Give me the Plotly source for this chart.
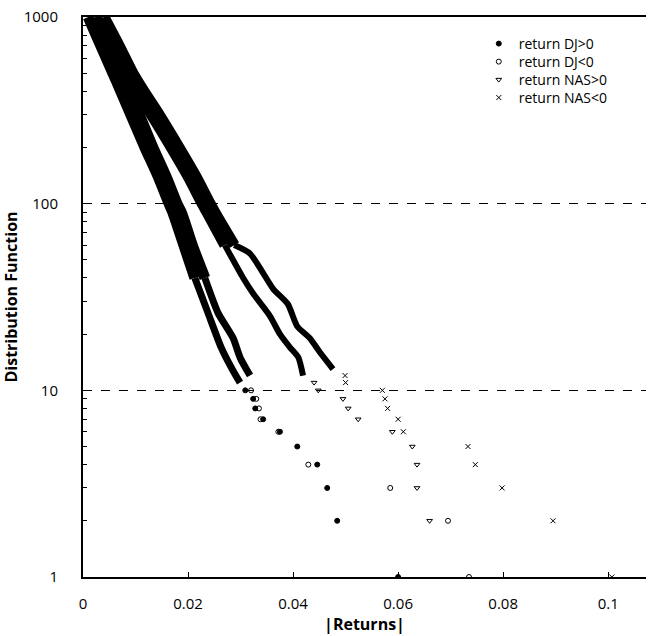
import plotly.graph_objects as go

# ---- Data (|return| vs cumulative count) ----
# Dense body (thick band), mid section (thinner), sparse tail (markers)
dj_pos_core_y = [1000, 700, 500, 400, 300, 200, 140, 100, 90, 60, 40]
dj_pos_core_x = [0.0010, 0.0034, 0.0057, 0.0072, 0.0091, 0.0118, 0.0143, 0.0164, 0.0171, 0.0192, 0.0213]
dj_pos_mid_y = [40, 26, 17, 13, 11]
dj_pos_mid_x = [0.0213, 0.0238, 0.0263, 0.0284, 0.0299]
dj_pos_tail_y = [10, 9, 8, 7, 6, 5, 4, 3, 2, 1]
dj_pos_tail_x = [0.0309, 0.0324, 0.0328, 0.0343, 0.0375, 0.0408, 0.0446, 0.0465, 0.0484, 0.0600]

dj_neg_core_y = [1000, 700, 500, 400, 300, 200, 140, 100, 90, 60, 40]
dj_neg_core_x = [0.0025, 0.0050, 0.0072, 0.0088, 0.0107, 0.0133, 0.0158, 0.0179, 0.0187, 0.0208, 0.0232]
dj_neg_mid_y = [40, 26, 19, 15, 12]
dj_neg_mid_x = [0.0232, 0.0257, 0.0286, 0.0299, 0.0318]
dj_neg_tail_y = [10, 9, 8, 7, 6, 4, 3, 2, 1]
dj_neg_tail_x = [0.0320, 0.0330, 0.0335, 0.0338, 0.0372, 0.0429, 0.0585, 0.0695, 0.0735]

nas_pos_core_y = [1000, 700, 500, 400, 300, 200, 140, 100, 90, 60]
nas_pos_core_x = [0.0025, 0.0053, 0.0080, 0.0101, 0.0130, 0.0168, 0.0200, 0.0227, 0.0236, 0.0270]
nas_pos_mid_y = [60, 40, 33, 25, 20, 17, 15, 12]
nas_pos_mid_x = [0.0270, 0.0305, 0.0324, 0.0356, 0.0375, 0.0394, 0.0410, 0.0419]
nas_pos_tail_y = [11, 10, 9, 8, 7, 6, 5, 4, 3, 2]
nas_pos_tail_x = [0.0440, 0.0448, 0.0495, 0.0505, 0.0524, 0.0589, 0.0627, 0.0636, 0.0636, 0.0660]

nas_neg_core_y = [1000, 700, 500, 400, 300, 200, 140, 100, 90, 60]
nas_neg_core_x = [0.0040, 0.0069, 0.0095, 0.0116, 0.0145, 0.0183, 0.0215, 0.0242, 0.0251, 0.0288]
nas_neg_mid_y = [60, 54, 35, 29, 22, 19, 16, 13]
nas_neg_mid_x = [0.0288, 0.0318, 0.0362, 0.0390, 0.0408, 0.0432, 0.0451, 0.0476]
nas_neg_tail_y = [12, 11, 10, 9, 8, 7, 6, 5, 4, 3, 2, 1]
nas_neg_tail_x = [0.0499, 0.0500, 0.0570, 0.0575, 0.0580, 0.0600, 0.0610, 0.0733, 0.0747, 0.0798, 0.0895, 0.1007]

series_names = ["return DJ>0", "return DJ<0", "return NAS>0", "return NAS<0"]
series_symbols = ["circle", "circle-open", "triangle-down-open", "x-thin-open"]

x_tickvals = [0, 0.02, 0.04, 0.06, 0.08, 0.1]
x_ticktext = ["0", "0.02", "0.04", "0.06", "0.08", "0.1"]
y_tickvals = [1, 10, 100, 1000]
y_ticktext = ["1", "10", "100", "1000"]
y_minor_vals = [m * d for d in (1, 10, 100) for m in range(2, 10)]

series = [
    (dj_pos_core_x, dj_pos_core_y, dj_pos_mid_x, dj_pos_mid_y, dj_pos_tail_x, dj_pos_tail_y),
    (dj_neg_core_x, dj_neg_core_y, dj_neg_mid_x, dj_neg_mid_y, dj_neg_tail_x, dj_neg_tail_y),
    (nas_pos_core_x, nas_pos_core_y, nas_pos_mid_x, nas_pos_mid_y, nas_pos_tail_x, nas_pos_tail_y),
    (nas_neg_core_x, nas_neg_core_y, nas_neg_mid_x, nas_neg_mid_y, nas_neg_tail_x, nas_neg_tail_y),
]
mid_widths = [7, 7, 6, 6]

FONT = "Open Sans"
fig = go.Figure()

# bodies first (no legend)
for i, (cx, cy, mx, my, tx, ty) in enumerate(series):
    fig.add_trace(go.Scatter(x=cx, y=cy, mode="lines",
                             line=dict(color="black", width=11, shape="spline", smoothing=0.8),
                             showlegend=False, hoverinfo="skip"))
    fig.add_trace(go.Scatter(x=mx, y=my, mode="lines",
                             line=dict(color="black", width=mid_widths[i], shape="spline", smoothing=0.6),
                             showlegend=False, hoverinfo="skip"))

legend_ids = ["legend", "legend2", "legend3", "legend4"]
for i, (cx, cy, mx, my, tx, ty) in enumerate(series):
    fig.add_trace(go.Scatter(x=tx, y=ty, mode="markers", name=series_names[i], legend=legend_ids[i],
                             marker=dict(symbol=series_symbols[i], size=5, color="black",
                                         line=dict(color="black", width=1))))

# row centres at ~44, 62, 80, 98 px in the page
legend_rows_y = [0.9518, 0.9196, 0.8875, 0.8554]
legend_style = dict(x=0.703, xanchor="left", yanchor="middle", bgcolor="rgba(0,0,0,0)",
                    font=dict(family=FONT, size=14, color="black"), itemwidth=30,
                    borderwidth=0)

fig.update_layout(
    width=648, height=636,
    margin=dict(l=83, r=2, t=17, b=59, autoexpand=False),
    plot_bgcolor="white", paper_bgcolor="white",
    font=dict(family=FONT, color="black"),
    showlegend=True,
    legend=dict(y=legend_rows_y[0], **legend_style),
    legend2=dict(y=legend_rows_y[1], **legend_style),
    legend3=dict(y=legend_rows_y[2], **legend_style),
    legend4=dict(y=legend_rows_y[3], **legend_style),
    xaxis=dict(range=[0, 0.1072], showline=True, linecolor="black", linewidth=2, mirror=True,
               automargin=False,
               ticks="inside", ticklen=5, tickcolor="black", showgrid=False, zeroline=False,
               tickvals=x_tickvals, ticktext=x_ticktext, ticklabelstandoff=12,
               ticklabeloverflow="allow",
               tickfont=dict(family=FONT, size=15, color="black"),
               title=dict(text="<b>|Returns|</b>", font=dict(family=FONT, size=16, color="black"),
                          standoff=2)),
    yaxis=dict(type="log", range=[0, 3], showline=True, linecolor="black", linewidth=2, mirror=False,
               automargin=False,
               ticks="inside", ticklen=6, tickcolor="black",
               tickvals=y_tickvals, ticktext=y_ticktext, ticklabelstandoff=20,
               ticklabeloverflow="allow",
               tickfont=dict(family=FONT, size=15, color="black"),
               showgrid=True, gridcolor="black", gridwidth=1, griddash="dash", zeroline=False,
               minor=dict(tickvals=y_minor_vals, ticks="inside", ticklen=4, tickcolor="black",
                          showgrid=False),
               title=dict(text="<b>Distribution Function</b>", font=dict(family=FONT, size=16, color="black"),
                          standoff=12)),
)

# remove the browser's default 8px body margin so the figure fills the window exactly
fig.write_html("out.html", config={"displayModeBar": False},
               post_script="document.body.style.margin='0';")
